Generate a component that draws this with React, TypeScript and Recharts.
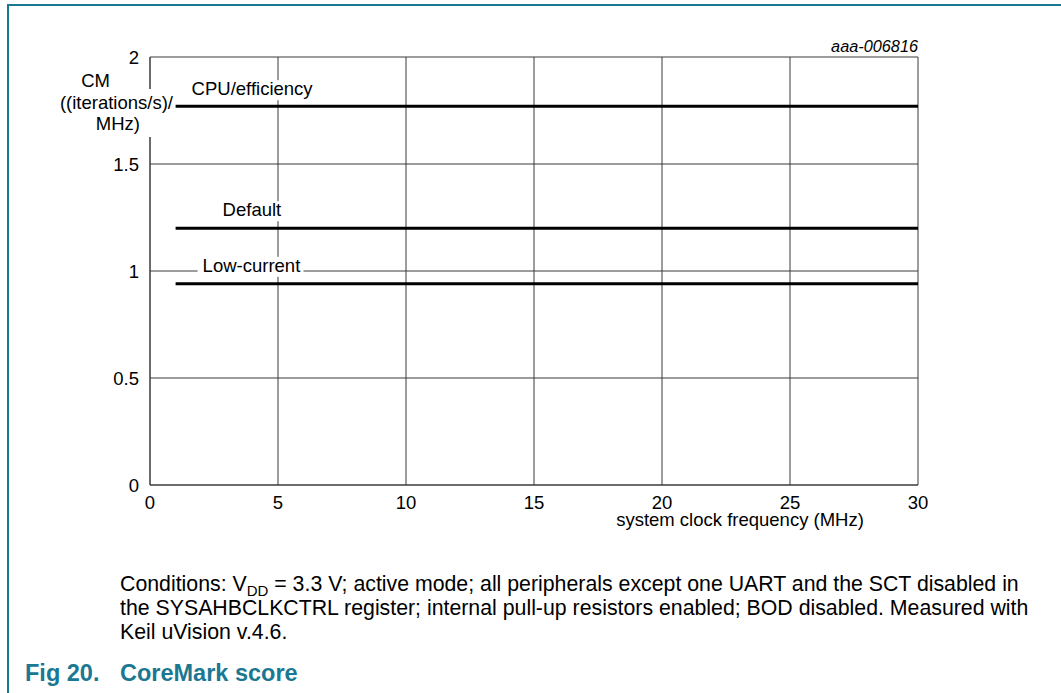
import React from "react";
import { LineChart, Line, XAxis, YAxis, CartesianGrid } from "recharts";

// system clock frequency (MHz) at the two ends of each measured line
const frequency = [1, 30];
// CoreMark score per MHz for each flash/power profile
const cpuEfficiency = [1.77, 1.77];
const defaultMode = [1.2, 1.2];
const lowCurrent = [0.94, 0.94];

const xTicks = [0, 5, 10, 15, 20, 25, 30];
const yTicks = [0, 0.5, 1, 1.5, 2];

const TEAL = "#1b7892";
const FONT = "'Liberation Sans', Arial, Helvetica, sans-serif";
const FS = 18.5;

const data = frequency.map((f, i) => ({
  f,
  cpu: cpuEfficiency[i],
  def: defaultMode[i],
  low: lowCurrent[i],
}));

// label drawn above the start of a line, with a white box that cuts the grid
const seriesLabel = (text: string, dx: number, dy: number) => (props: any) => {
  const { x, y, index } = props;
  if (index !== 0) return null;
  const w = text.length * 8.9 + 8;
  return (
    <g>
      <rect x={x + dx - 5} y={y + dy - 15} width={w} height={20} fill="#fff" />
      <text x={x + dx} y={y + dy} fontSize={FS} fill="#000" fontFamily={FONT}>
        {text}
      </text>
    </g>
  );
};

const abs = (s: React.CSSProperties): React.CSSProperties => ({
  position: "absolute",
  whiteSpace: "nowrap",
  ...s,
});

export default function App() {
  return (
    <div
      style={{
        position: "absolute",
        left: 0,
        top: 0,
        width: 1061,
        height: 693,
        background: "#fff",
        fontFamily: FONT,
        overflow: "hidden",
      }}
    >
      <div
        style={abs({
          left: 7,
          top: 4,
          right: -10,
          bottom: -10,
          borderLeft: `2px solid ${TEAL}`,
          borderTop: `2px solid ${TEAL}`,
        })}
      />
      <div style={abs({ left: 0, top: 0 })}>
        <LineChart
          width={1061}
          height={693}
          data={data}
          margin={{ top: 57, right: 143, bottom: 168, left: 0 }}
        >
          <CartesianGrid stroke="#3a3a3a" strokeWidth={1} />
          <XAxis
            dataKey="f"
            type="number"
            domain={[0, 30]}
            ticks={xTicks}
            height={40}
            tickLine={false}
            tickSize={0}
            tickMargin={11}
            axisLine={{ stroke: "#3a3a3a" }}
            tick={{ fill: "#000", fontSize: FS, fontFamily: FONT }}
          />
          <YAxis
            type="number"
            domain={[0, 2]}
            ticks={yTicks}
            width={150}
            tickLine={false}
            tickSize={0}
            tickMargin={11}
            axisLine={{ stroke: "#3a3a3a" }}
            tick={{ fill: "#000", fontSize: FS, fontFamily: FONT }}
          />
          <Line
            dataKey="cpu"
            stroke="#000"
            strokeWidth={3}
            dot={false}
            isAnimationActive={false}
            label={seriesLabel("CPU/efficiency", 16, -11)}
          />
          <Line
            dataKey="def"
            stroke="#000"
            strokeWidth={3}
            dot={false}
            isAnimationActive={false}
            label={seriesLabel("Default", 47, -12)}
          />
          <Line
            dataKey="low"
            stroke="#000"
            strokeWidth={3}
            dot={false}
            isAnimationActive={false}
            label={seriesLabel("Low-current", 27, -12)}
          />
        </LineChart>
      </div>

      {/* axis titles and figure id */}
      <svg
        width={1061}
        height={693}
        style={{ position: "absolute", left: 0, top: 0, pointerEvents: "none" }}
        fontFamily={FONT}
      >
        <rect x={140} y={89} width={20} height={48} fill="#fff" />
        <text x={110} y={87} fontSize={FS} textAnchor="end">CM</text>
        <text x={173} y={109} fontSize={FS} textAnchor="end">((iterations/s)/</text>
        <text x={140} y={130} fontSize={FS} textAnchor="end">MHz)</text>
        <text x={918} y={52} fontSize={16.3} fontStyle="italic" textAnchor="end">
          aaa-006816
        </text>
        <text x={740} y={526} fontSize={FS} textAnchor="middle">
          system clock frequency (MHz)
        </text>
      </svg>

      <div style={abs({ left: 120, top: 572, fontSize: 21.3, lineHeight: "24px" })}>
        Conditions: V
        <span style={{ fontSize: 15, lineHeight: 0, position: "relative", top: 5 }}>DD</span> = 3.3 V;
        active mode; all peripherals except one UART and the SCT disabled in
        <br />
        the SYSAHBCLKCTRL register; internal pull-up resistors enabled; BOD disabled. Measured with
        <br />
        Keil uVision v.4.6.
      </div>

      <div
        style={abs({ left: 25, top: 660, fontSize: 23.5, lineHeight: "27px", fontWeight: "bold", color: TEAL })}
      >
        Fig 20.
      </div>
      <div
        style={abs({ left: 120, top: 660, fontSize: 23.5, lineHeight: "27px", fontWeight: "bold", color: TEAL })}
      >
        CoreMark score
      </div>
    </div>
  );
}
